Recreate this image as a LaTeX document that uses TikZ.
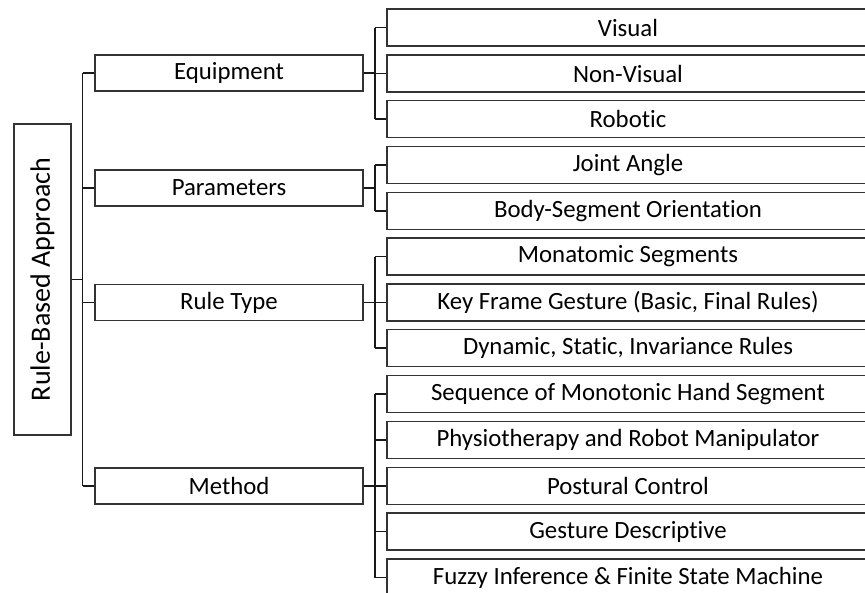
\documentclass[tikz,border=0pt]{standalone}
\usepackage{fontspec}
\setmainfont[RawFeature={-liga}]{Carlito}
\begin{document}
\begin{tikzpicture}[x=1pt,y=-1pt,
  box/.style={draw=black!80,line width=1.4pt,fill=white,inner sep=0pt,
    font=\fontsize{24.8}{28}\selectfont,text=black},
  rootbox/.style={box,font=\fontsize{28}{32}\selectfont},
  catbox/.style={box,minimum width=268pt,minimum height=36pt},
  leafbox/.style={box,minimum width=482pt,minimum height=37pt},
  link/.style={draw=black!90,line width=1.3pt}]
\useasboundingbox (0,0) rectangle (865,592);
\begin{scope}
\clip (0,0) rectangle (865,592);

% root
\node[rootbox,rotate=90,minimum width=311pt,minimum height=57pt] (root) at (42.5,279.5) {Rule-Based Approach};

% first level
\node[catbox] (eq) at (229,73) {Equipment};
\node[catbox] (pa) at (229,188) {Parameters};
\node[catbox] (rt) at (229,302.5) {Rule Type};
\node[catbox] (me) at (229,486) {Method};

% second level
\node[leafbox] (vis) at (628,27.5) {Visual};
\node[leafbox] (nvis) at (628,73.5) {Non-Visual};
\node[leafbox] (rob) at (628,119) {Robotic};
\node[leafbox] (ja) at (628,165) {Joint Angle};
\node[leafbox] (bso) at (628,211) {Body-Segment Orientation};
\node[leafbox] (mon) at (628,256.5) {Monatomic Segments};
\node[leafbox] (kfg) at (628,302.5) {Key Frame Gesture (Basic, Final Rules)};
\node[leafbox] (dyn) at (628,348) {Dynamic, Static, Invariance Rules};
\node[leafbox] (seq) at (628,394) {Sequence of Monotonic Hand Segment};
\node[leafbox] (phy) at (628,440) {Physiotherapy and Robot Manipulator};
\node[leafbox] (pos) at (628,486) {Postural Control};
\node[leafbox] (ges) at (628,531.5) {Gesture Descriptive};
\node[leafbox] (fuz) at (628,577.5) {Fuzzy Inference \& Finite State Machine};

% bus positions
\coordinate (t0) at (82.5,0);
\coordinate (t1) at (375,0);

% trunk from the root
\draw[link] (root.south) -- (root.south -| t0);
\draw[link] (eq.west -| t0) -- (me.west -| t0);
\foreach \c in {eq,pa,rt,me}
  \draw[link] (\c.west -| t0) -- (\c.west);

% branches to the leaves
\draw[link] (eq.east) -- (eq.east -| t1);
\draw[link] (vis.west -| t1) -- (rob.west -| t1);
\foreach \c in {vis,nvis,rob}
  \draw[link] (\c.west -| t1) -- (\c.west);

\draw[link] (pa.east) -- (pa.east -| t1);
\draw[link] (ja.west -| t1) -- (bso.west -| t1);
\foreach \c in {ja,bso}
  \draw[link] (\c.west -| t1) -- (\c.west);

\draw[link] (rt.east) -- (rt.east -| t1);
\draw[link] (mon.west -| t1) -- (dyn.west -| t1);
\foreach \c in {mon,kfg,dyn}
  \draw[link] (\c.west -| t1) -- (\c.west);

\draw[link] (me.east) -- (me.east -| t1);
\draw[link] (seq.west -| t1) -- (fuz.west -| t1);
\foreach \c in {seq,phy,pos,ges,fuz}
  \draw[link] (\c.west -| t1) -- (\c.west);
\end{scope}
\end{tikzpicture}
\end{document}
